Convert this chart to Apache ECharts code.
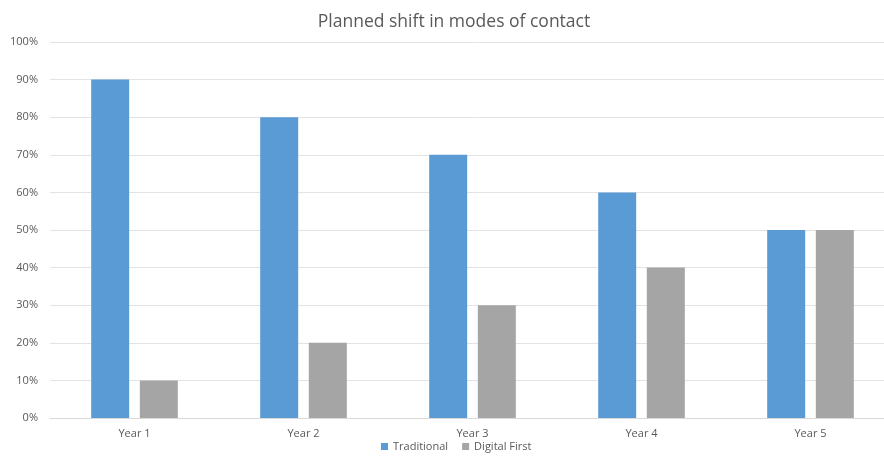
<!DOCTYPE html>
<html>
<head>
<meta charset="utf-8">
<script src="https://cdn.jsdelivr.net/npm/echarts@6/dist/echarts.min.js"></script>
<style>
  html, body { margin: 0; padding: 0; background: #fff; overflow: hidden; }
  #chart { width: 895px; height: 457px; }
</style>
</head>
<body>
<div id="chart"></div>
<script>
const categories = ['Year 1', 'Year 2', 'Year 3', 'Year 4', 'Year 5'];
const traditional = [90, 80, 70, 60, 50];
const digitalFirst = [10, 20, 30, 40, 50];
const yTicks = [0, 10, 20, 30, 40, 50, 60, 70, 80, 90, 100];

const chart = echarts.init(document.getElementById('chart'));

// the original chart is a little wider than the picture, so the plot runs off the right edge
const option = {
    backgroundColor: '#ffffff',
    textStyle: { fontFamily: 'Open Sans, Noto Sans, sans-serif' },
    title: {
        text: 'Planned shift in modes of contact',
        left: 449,
        textAlign: 'center',
        top: 8,
        textStyle: { fontSize: 17.5, fontWeight: 'normal', color: '#595959' }
    },
    legend: {
        bottom: 0,
        left: 376,
        itemWidth: 7,
        itemHeight: 7,
        itemGap: 14,
        icon: 'rect',
        textStyle: { fontSize: 11, color: '#595959' },
        data: ['Traditional', 'Digital First']
    },
    grid: { left: 50, right: 0, top: 42, bottom: 39 },
    xAxis: {
        type: 'category',
        data: categories,
        axisTick: { show: false },
        axisLine: { lineStyle: { color: '#d9d9d9' } },
        axisLabel: { fontSize: 11, color: '#595959', margin: 10 }
    },
    yAxis: {
        type: 'value',
        min: yTicks[0],
        max: yTicks[yTicks.length - 1],
        interval: 10,
        axisLine: { show: false },
        axisTick: { show: false },
        splitLine: { lineStyle: { color: '#e3e3e3' } },
        axisLabel: {
            fontSize: 11,
            color: '#595959',
            margin: 12,
            formatter: v => v + '%'
        }
    },
    series: [
        {
            name: 'Traditional',
            type: 'bar',
            data: traditional,
            barWidth: 38,
            barGap: '28%',
            itemStyle: { color: '#5b9bd5' }
        },
        {
            name: 'Digital First',
            type: 'bar',
            data: digitalFirst,
            barWidth: 38,
            itemStyle: { color: '#a5a5a5' }
        }
    ]
};

chart.setOption(option);
</script>
</body>
</html>
